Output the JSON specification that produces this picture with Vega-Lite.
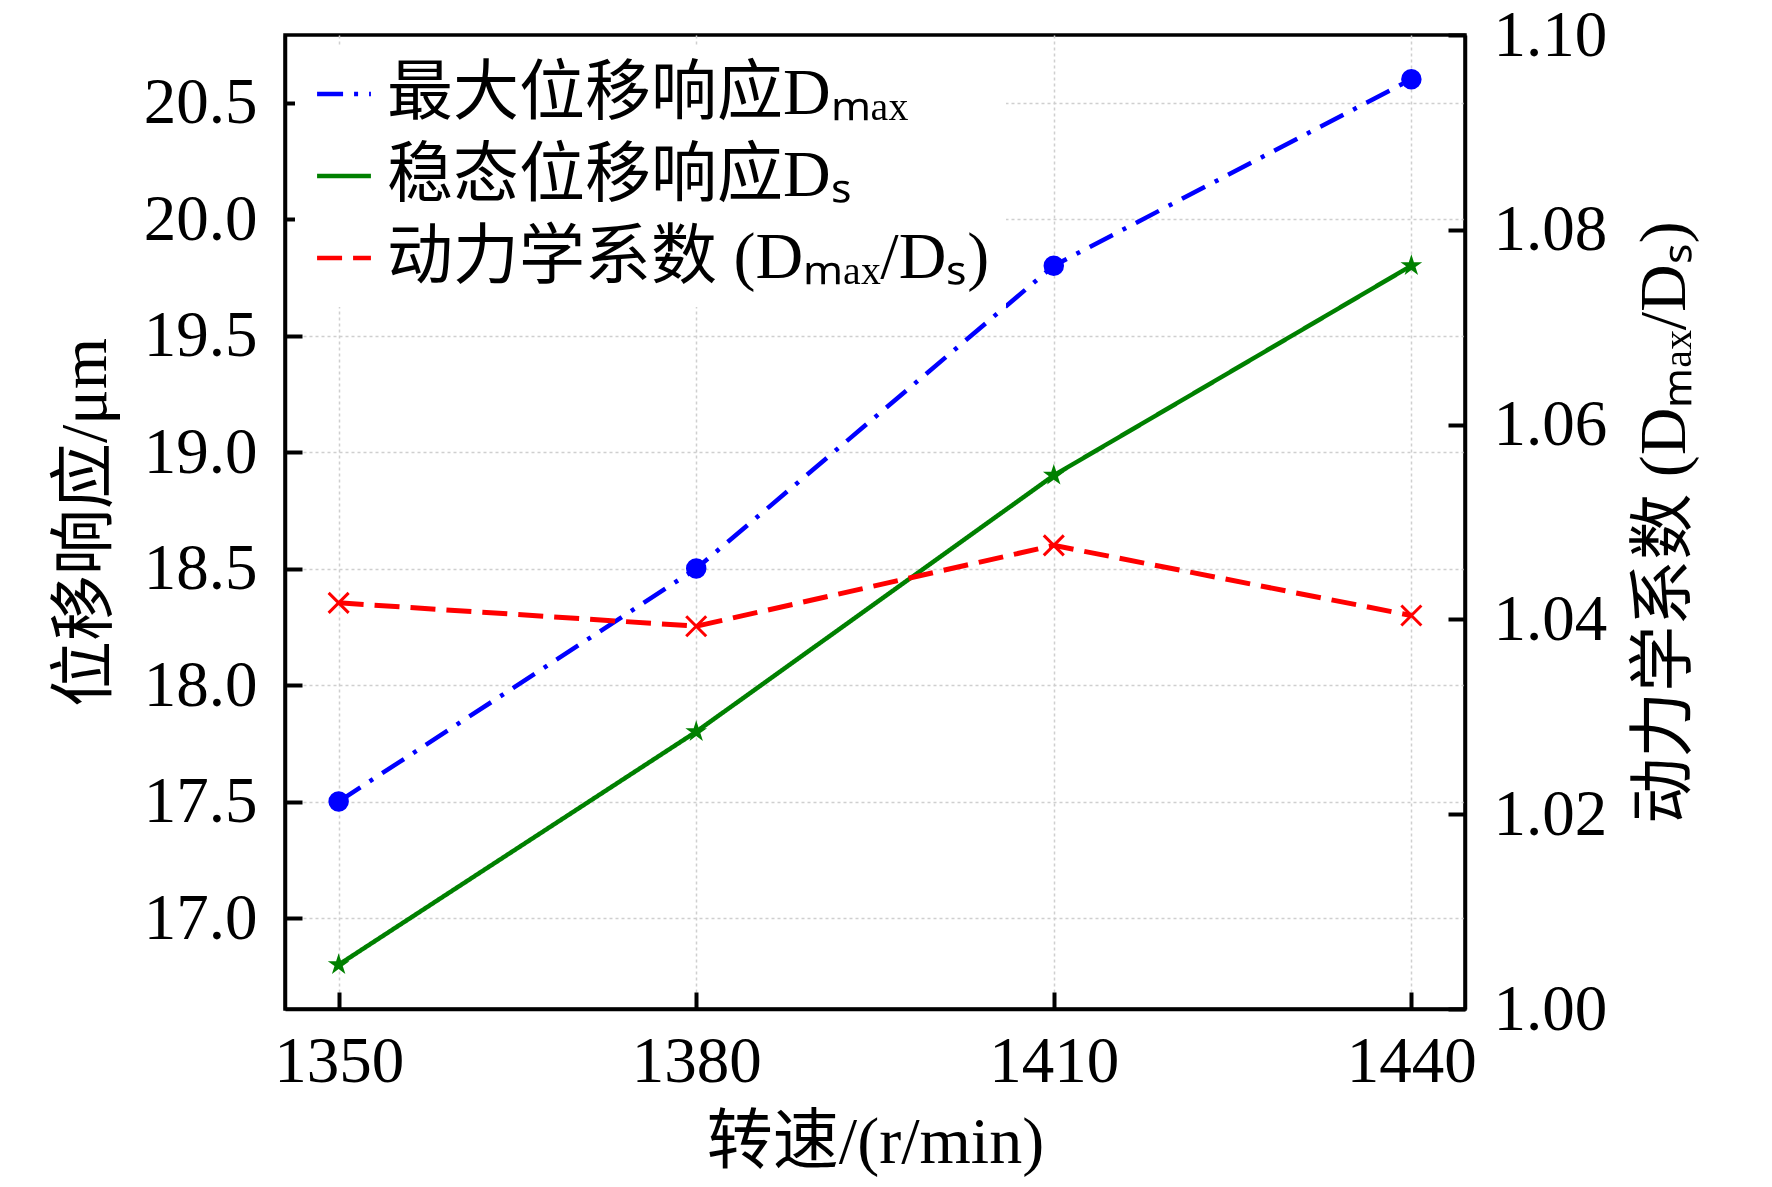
{
  "$schema": "https://vega.github.io/schema/vega-lite/v6.json",
  "width": 1180,
  "height": 974,
  "autosize": {"type": "none"},
  "padding": {"left": 285, "top": 35, "right": 307, "bottom": 178},
  "background": "white",
  "config": {
    "font": "Liberation Serif, Noto Sans CJK SC",
    "view": {"stroke": "black", "strokeWidth": 3.5},
    "axis": {
      "labelFont": "Liberation Serif, Noto Sans CJK SC",
      "titleFont": "Liberation Serif, Noto Sans CJK SC",
      "labelFontSize": 65,
      "titleFontSize": 66,
      "titleFontWeight": "normal",
      "labelColor": "black",
      "titleColor": "black",
      "domainColor": "black",
      "domainWidth": 3.5,
      "tickColor": "black",
      "tickWidth": 4,
      "tickSize": -17,
      "gridColor": "#cfcfcf",
      "gridDash": [3, 3],
      "gridWidth": 1.5,
      "labelFlush": false,
      "labelOverlap": false
    },
    "legend": {
      "labelFont": "Liberation Serif, Noto Sans CJK SC",
      "labelFontSize": 66,
      "labelColor": "black",
      "labelLimit": 0
    }
  },
  "data": {
    "values": [
      {"rpm": 1350, "series": "最大位移响应Dₘₐₓ", "value": 17.5},
      {"rpm": 1380, "series": "最大位移响应Dₘₐₓ", "value": 18.5},
      {"rpm": 1410, "series": "最大位移响应Dₘₐₓ", "value": 19.8},
      {"rpm": 1440, "series": "最大位移响应Dₘₐₓ", "value": 20.6},
      {"rpm": 1350, "series": "稳态位移响应Dₛ", "value": 16.8},
      {"rpm": 1380, "series": "稳态位移响应Dₛ", "value": 17.8},
      {"rpm": 1410, "series": "稳态位移响应Dₛ", "value": 18.9},
      {"rpm": 1440, "series": "稳态位移响应Dₛ", "value": 19.8},
      {"rpm": 1350, "series": "动力学系数 (Dₘₐₓ/Dₛ)", "value": 1.0417},
      {"rpm": 1380, "series": "动力学系数 (Dₘₐₓ/Dₛ)", "value": 1.0393},
      {"rpm": 1410, "series": "动力学系数 (Dₘₐₓ/Dₛ)", "value": 1.0476},
      {"rpm": 1440, "series": "动力学系数 (Dₘₐₓ/Dₛ)", "value": 1.0404}
    ]
  },
  "encoding": {
    "x": {
      "field": "rpm",
      "type": "quantitative",
      "scale": {"domain": [1345.5, 1444.5], "nice": false, "zero": false},
      "axis": {
        "title": "转速/(r/min)",
        "values": [1350, 1380, 1410, 1440],
        "format": "d",
        "labelPadding": 38,
        "titlePadding": 16,
        "grid": true
      }
    }
  },
  "layer": [
    {
      "transform": [{"filter": "datum.series !== '动力学系数 (Dₘₐₓ/Dₛ)'"}],
      "encoding": {
        "y": {
          "field": "value",
          "type": "quantitative",
          "scale": {"domain": [16.61, 20.79], "nice": false, "zero": false},
          "axis": {
            "orient": "left",
            "title": "位移响应/μm",
            "values": [17, 17.5, 18, 18.5, 19, 19.5, 20, 20.5],
            "format": ".1f",
            "labelPadding": 45,
            "titlePadding": 24,
            "grid": true
          }
        }
      },
      "layer": [
        {
          "mark": {"type": "line", "strokeWidth": 4.5},
          "encoding": {
            "color": {
              "field": "series",
              "type": "nominal",
              "scale": {
                "domain": ["最大位移响应Dₘₐₓ", "稳态位移响应Dₛ", "动力学系数 (Dₘₐₓ/Dₛ)"],
                "range": ["#0000ff", "#008000", "#ff0000"]
              },
              "legend": {
                "title": null,
                "orient": "top-left",
                "offset": 10,
                "padding": 16,
                "fillColor": "white",
                "symbolType": "stroke",
                "symbolSize": 2900,
                "symbolStrokeWidth": 4.5,
                "labelOffset": 10,
                "rowPadding": 16
              }
            },
            "strokeDash": {
              "field": "series",
              "type": "nominal",
              "scale": {
                "domain": ["最大位移响应Dₘₐₓ", "稳态位移响应Dₛ", "动力学系数 (Dₘₐₓ/Dₛ)"],
                "range": [[26, 11, 4, 11], [1, 0], [25, 11]]
              },
              "legend": {
                "title": null,
                "orient": "top-left",
                "offset": 10,
                "padding": 16,
                "fillColor": "white",
                "symbolType": "stroke",
                "symbolSize": 2900,
                "symbolStrokeWidth": 4.5,
                "labelOffset": 10,
                "rowPadding": 16
              }
            }
          }
        },
        {
          "transform": [{"filter": "datum.series === '最大位移响应Dₘₐₓ'"}],
          "mark": {"type": "point", "shape": "circle", "filled": true, "color": "#0000ff", "size": 420, "opacity": 1}
        },
        {
          "transform": [{"filter": "datum.series === '稳态位移响应Dₛ'"}],
          "mark": {
            "type": "point",
            "shape": "M0,-1L0.2245,-0.309L0.951,-0.309L0.363,0.118L0.588,0.809L0,0.382L-0.588,0.809L-0.363,0.118L-0.951,-0.309L-0.2245,-0.309Z",
            "filled": true,
            "color": "#008000",
            "size": 520,
            "opacity": 1
          }
        }
      ]
    },
    {
      "transform": [{"filter": "datum.series === '动力学系数 (Dₘₐₓ/Dₛ)'"}],
      "encoding": {
        "y": {
          "field": "value",
          "type": "quantitative",
          "scale": {"domain": [1.0, 1.1], "nice": false, "zero": false},
          "axis": {
            "orient": "right",
            "title": "动力学系数 (Dₘₐₓ/Dₛ)",
            "titleAngle": -90,
            "titleBaseline": "top",
            "values": [1.0, 1.02, 1.04, 1.06, 1.08, 1.1],
            "format": ".2f",
            "labelPadding": 45,
            "titlePadding": 26,
            "grid": false
          }
        }
      },
      "layer": [
        {
          "mark": {"type": "line", "strokeWidth": 5},
          "encoding": {
            "color": {"field": "series", "type": "nominal"},
            "strokeDash": {"field": "series", "type": "nominal"}
          }
        },
        {
          "mark": {
            "type": "point",
            "shape": "M-1,-1L1,1M-1,1L1,-1",
            "filled": false,
            "color": "#ff0000",
            "strokeWidth": 3,
            "size": 400,
            "opacity": 1
          }
        }
      ]
    }
  ],
  "resolve": {"scale": {"y": "independent"}}
}
